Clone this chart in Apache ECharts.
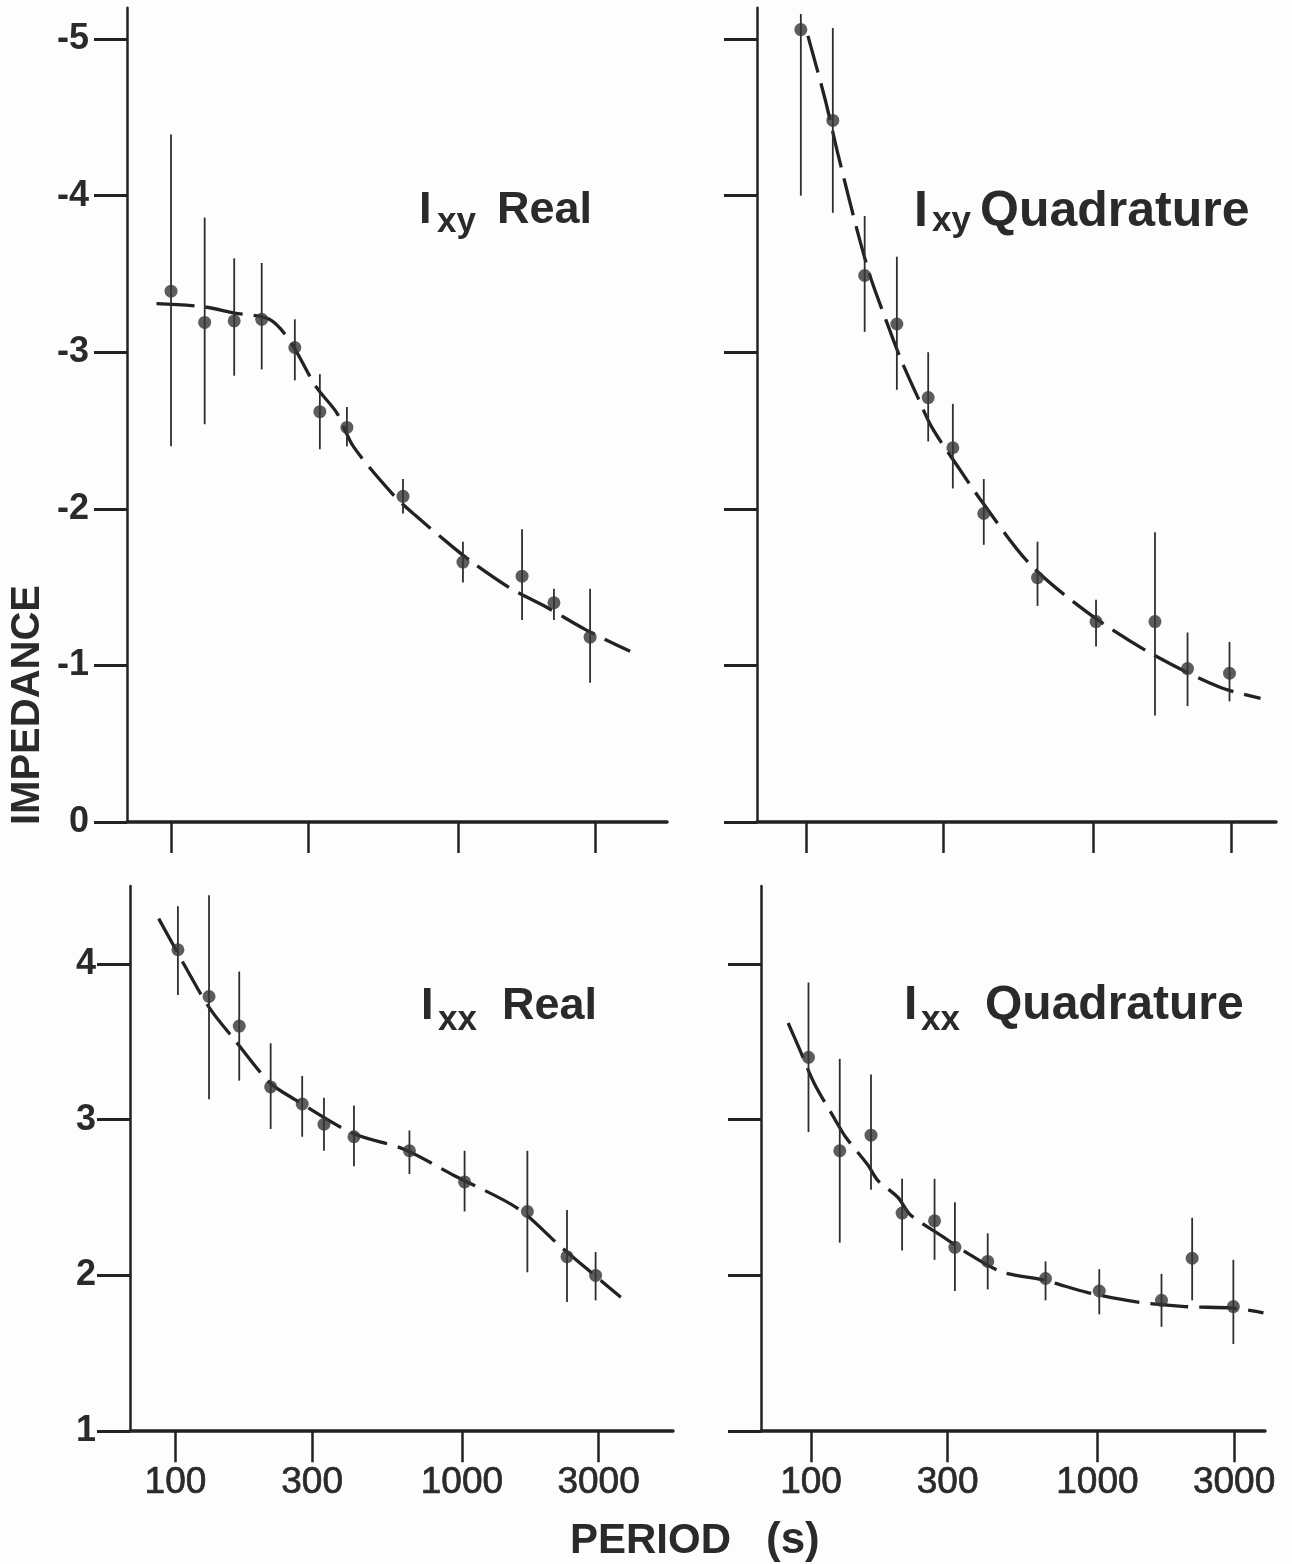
<!DOCTYPE html>
<html><head><meta charset="utf-8">
<script src="https://cdn.jsdelivr.net/npm/echarts@6/dist/echarts.min.js"></script>
<style>html,body{margin:0;padding:0;background:#fdfdfd}#c{width:1292px;height:1564px}</style>
</head><body><div id="c"></div><script>
// ---------- DATA ----------
const periodTicks = [100, 300, 1000, 3000];
const topYTicks = [-5, -4, -3, -2, -1, 0];
const bottomYTicks = [1, 2, 3, 4];

// Ixy Real
const tlPeriod = [100, 131, 166, 207, 270, 330, 410, 643, 1040, 1671, 2158, 2884];
const tlValue  = [-3.39, -3.19, -3.20, -3.21, -3.03, -2.62, -2.52, -2.08, -1.66, -1.57, -1.40, -1.18];
const tlHigh   = [-4.39, -3.86, -3.60, -3.57, -3.21, -2.86, -2.65, -2.19, -1.79, -1.87, -1.49, -1.49];
const tlLow    = [-2.40, -2.54, -2.85, -2.89, -2.82, -2.38, -2.40, -1.97, -1.53, -1.29, -1.29, -0.89];
const tlFitPeriod = [89, 130, 166, 220, 260, 320, 379, 431, 594, 708, 953, 1137, 1530, 2042, 2770, 3975];
const tlFitValue  = [-3.31, -3.29, -3.25, -3.21, -3.07, -2.78, -2.61, -2.40, -2.09, -1.96, -1.76, -1.65, -1.49, -1.37, -1.23, -1.09];

// Ixy Quadrature
const trPeriod = [96, 124, 160, 207, 266, 324, 415, 638, 1019, 1633, 2119, 2965];
const trValue  = [-5.06, -4.48, -3.49, -3.18, -2.71, -2.39, -1.97, -1.56, -1.28, -1.28, -0.98, -0.95];
const trHigh   = [-5.16, -5.07, -3.87, -3.61, -3.00, -2.67, -2.19, -1.79, -1.42, -1.85, -1.21, -1.15];
const trLow    = [-4.00, -3.89, -3.13, -2.76, -2.43, -2.13, -1.77, -1.38, -1.12, -0.68, -0.74, -0.77];
const trFitPeriod = [101.6, 116.4, 129.8, 151.6, 168.2, 189.3, 213.2, 245, 274, 337, 411, 598, 948, 1569, 2748, 3800];
const trFitValue  = [-5.02, -4.62, -4.25, -3.76, -3.47, -3.21, -2.96, -2.71, -2.52, -2.27, -2.04, -1.65, -1.34, -1.08, -0.86, -0.79];

// Ixx Real
const blPeriod = [102, 131, 167, 215, 277, 330, 420, 656, 1022, 1693, 2328, 2930];
const blValue  = [4.09, 3.79, 3.60, 3.21, 3.10, 2.97, 2.89, 2.80, 2.60, 2.41, 2.12, 2.00];
const blHigh   = [4.37, 4.44, 3.95, 3.49, 3.28, 3.14, 3.09, 2.93, 2.80, 2.80, 2.42, 2.15];
const blLow    = [3.80, 3.13, 3.25, 2.94, 2.89, 2.80, 2.70, 2.65, 2.41, 2.02, 1.83, 1.84];
const blFitPeriod = [87.4, 119.6, 134.6, 159.6, 212.7, 260.6, 418, 628, 942, 1566, 2198, 2782, 3588];
const blFitValue  = [4.29, 3.84, 3.69, 3.52, 3.24, 3.13, 2.91, 2.81, 2.64, 2.43, 2.19, 2.03, 1.86];

// Ixx Quadrature
const brPeriod = [98, 126, 162, 208, 270, 318, 414, 659, 1015, 1674, 2142, 2983];
const brValue  = [3.40, 2.80, 2.90, 2.40, 2.35, 2.18, 2.09, 1.98, 1.90, 1.84, 2.11, 1.80];
const brHigh   = [3.88, 3.39, 3.29, 2.62, 2.62, 2.47, 2.27, 2.09, 2.04, 2.01, 2.37, 2.10];
const brLow    = [2.92, 2.21, 2.55, 2.16, 2.10, 1.90, 1.91, 1.84, 1.75, 1.67, 1.84, 1.56];
const brFitPeriod = [83.2, 90.8, 102.8, 120.5, 131.9, 157.8, 171, 201.3, 222, 287.6, 361, 468, 648, 926, 1368, 2021, 2983, 3800];
const brFitValue  = [3.62, 3.46, 3.23, 3.01, 2.89, 2.71, 2.61, 2.50, 2.39, 2.25, 2.13, 2.02, 1.97, 1.89, 1.83, 1.80, 1.79, 1.76];

// ---------- LAYOUT / STYLE ----------
const FONT = '"Liberation Sans", Arial, Helvetica, sans-serif';
const INK = '#222';
const TXT = '#2a2a2a';
const panels = [
  {grid:{left:127, top:7.7, width:540, height:814.3}, xMin:70.25, xMax:5345, yMin:-5.2, yMax:0, inverse:true,
   yTicks:topYTicks, yLabels:true, yMargin:38, xLabels:false,
   per:tlPeriod, val:tlValue, lo:tlLow, hi:tlHigh, fp:tlFitPeriod, fv:tlFitValue},
  {grid:{left:757, top:7.7, width:519, height:814.3}, xMin:67.6, xMax:4301, yMin:-5.2, yMax:0, inverse:true,
   yTicks:topYTicks, yLabels:false, yMargin:38, xLabels:false,
   per:trPeriod, val:trValue, lo:trLow, hi:trHigh, fp:trFitPeriod, fv:trFitValue},
  {grid:{left:130, top:885.9, width:543, height:545.3}, xMin:69.4, xMax:5458, yMin:1, yMax:4.5, inverse:false,
   yTicks:bottomYTicks, yLabels:true, yMargin:34, xLabels:true,
   per:blPeriod, val:blValue, lo:blLow, hi:blHigh, fp:blFitPeriod, fv:blFitValue},
  {grid:{left:761, top:885.9, width:504, height:545.3}, xMin:66.9, xMax:3847, yMin:1, yMax:4.5, inverse:false,
   yTicks:bottomYTicks, yLabels:false, yMargin:34, xLabels:true,
   per:brPeriod, val:brValue, lo:brLow, hi:brHigh, fp:brFitPeriod, fv:brFitValue}
];

const grids = [], xAxes = [], yAxes = [], series = [];
panels.forEach((p, i) => {
  grids.push(Object.assign({containLabel:false}, p.grid));
  xAxes.push({
    gridIndex:i, type:'log', logBase:10, min:p.xMin, max:p.xMax,
    axisLine:{show:true, onZero:false, lineStyle:{color:INK, width:3.5, cap:'round'}},
    axisTick:{show:true, inside:false, length:31, customValues:periodTicks, lineStyle:{color:INK, width:2.5}},
    axisLabel:{show:p.xLabels, customValues:periodTicks, margin:33, fontSize:37, fontFamily:FONT,
      color:TXT, textBorderColor:TXT, textBorderWidth:0.7, formatter: v => String(Math.round(v))},
    splitLine:{show:false}, minorTick:{show:false}, minorSplitLine:{show:false}
  });
  yAxes.push({
    gridIndex:i, type:'value', min:p.yMin, max:p.yMax, inverse:p.inverse,
    axisLine:{show:true, onZero:false, lineStyle:{color:INK, width:2.5}},
    axisTick:{show:true, inside:false, length:33, customValues:p.yTicks, lineStyle:{color:INK, width:3}},
    axisLabel:{show:p.yLabels, customValues:p.yTicks, margin:p.yMargin, fontSize:36, fontWeight:'bold',
      fontFamily:FONT, color:TXT, formatter: v => String(v)},
    splitLine:{show:false}
  });
  series.push({
    type:'line', xAxisIndex:i, yAxisIndex:i, silent:true, symbol:'none', showSymbol:false,
    smooth:0.3, data:p.fp.map((x, k) => [x, p.fv[k]]),
    lineStyle:{color:INK, width:3.3, type:[38, 11]}, z:2
  });
  series.push({
    type:'custom', xAxisIndex:i, yAxisIndex:i, silent:true,
    data:p.per.map((x, k) => [x, p.lo[k], p.hi[k]]),
    encode:{x:0, y:[1, 2]},
    renderItem:(params, api) => {
      const a = api.coord([api.value(0), api.value(1)]);
      const b = api.coord([api.value(0), api.value(2)]);
      return {type:'line', shape:{x1:a[0], y1:a[1], x2:b[0], y2:b[1]},
        style:{stroke:'#2e2e2e', lineWidth:1.8}};
    }, z:3
  });
  series.push({
    type:'scatter', xAxisIndex:i, yAxisIndex:i, silent:true, symbol:'circle', symbolSize:13,
    data:p.per.map((x, k) => [x, p.val[k]]),
    itemStyle:{color:'#343434'}, z:4
  });
});

function panelTitle(xI, xSub, xWord, yMid, ySub, sub, word, size) {
  const base = {fill:TXT, align:'left', verticalAlign:'middle'};
  return [
    {type:'text', style:Object.assign({text:'I', x:xI, y:yMid, font:'bold ' + size + 'px ' + FONT}, base)},
    {type:'text', style:Object.assign({text:sub, x:xSub, y:ySub, font:'bold 35px ' + FONT}, base)},
    {type:'text', style:Object.assign({text:word, x:xWord, y:yMid, font:'bold ' + size + 'px ' + FONT}, base)}
  ];
}

const graphic = [].concat(
  panelTitle(419, 437, 497, 211, 222, 'xy', 'Real', 45),
  panelTitle(914, 932, 980, 212, 221, 'xy', 'Quadrature', 50),
  panelTitle(421, 438, 502, 1006.5, 1020, 'xx', 'Real', 45),
  panelTitle(904, 921, 985, 1005.5, 1020, 'xx', 'Quadrature', 48),
  [
    {type:'text', x:28, y:705, rotation:Math.PI / 2,
     style:{text:'IMPEDANCE', align:'center', verticalAlign:'middle', fill:TXT, font:'bold 40px ' + FONT}},
    {type:'text', style:{text:'PERIOD', x:570, y:1541, align:'left', verticalAlign:'middle', fill:TXT, font:'bold 42px ' + FONT}},
    {type:'text', style:{text:'(s)', x:766, y:1541, align:'left', verticalAlign:'middle', fill:TXT, font:'bold 44px ' + FONT}}
  ]
);

const chart = echarts.init(document.getElementById('c'), null, {renderer:'canvas'});
chart.setOption({
  backgroundColor:'#fdfdfd',
  animation:false,
  grid:grids, xAxis:xAxes, yAxis:yAxes, series:series, graphic:graphic
});
</script></body></html>
